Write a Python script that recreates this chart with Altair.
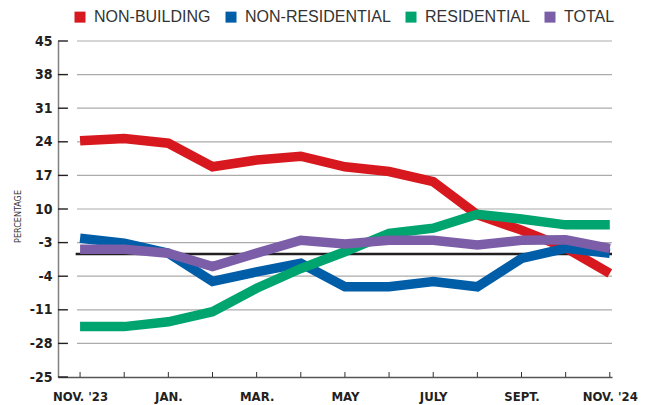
import json
import altair as alt
import pandas as pd

# ---- data ----
month_ticks = list(range(13))
month_labels = ["NOV. '23", "", "JAN.", "", "MAR.", "", "MAY", "", "JULY", "", "SEPT.", "", "NOV. '24"]

series_names = ["NON-BUILDING", "NON-RESIDENTIAL", "RESIDENTIAL", "TOTAL"]
series_colors = ["#D7191F", "#005DA8", "#00A46E", "#7B5EA7"]

non_building = [24.2, 24.7, 23.7, 18.8, 20.2, 21.0, 18.8, 17.8, 15.7, 8.8, 5.6, 1.9, -3.4]
non_residential = [3.9, 2.9, 0.8, -5.1, -3.1, -1.3, -6.2, -6.2, -5.1, -6.2, -0.3, 1.8, 0.8]
residential = [-14.5, -14.5, -13.5, -11.4, -6.5, -2.4, 1.1, 4.9, 6.0, 8.9, 7.9, 6.7, 6.7]
total = [1.6, 1.6, 0.8, -2.0, 0.8, 3.5, 2.7, 3.5, 3.5, 2.5, 3.5, 3.6, 1.8]

y_ticks = [45, 38, 31, 24, 17, 10, 3, -4, -11, -18, -25]
y_tick_labels = ["45", "38", "31", "24", "17", "10", "-3", "-4", "-11", "-28", "-25"]
reference_value = 0.6

# ---- tables ----
rows = []
for name, vals in zip(series_names, [non_building, non_residential, residential, total]):
    for i, v in enumerate(vals):
        rows.append({"idx": i, "series": name, "value": v})
df = pd.DataFrame(rows)
grid_df = pd.DataFrame({"v": y_ticks[:-1]})
ytick_df = pd.DataFrame({"v": y_ticks})
xtick_df = pd.DataFrame({"idx": month_ticks})
ref_df = pd.DataFrame({"v": [reference_value]})

x_scale = alt.Scale(domain=[-0.5, 12.05], nice=False, zero=False)
y_scale = alt.Scale(domain=[-25, 45], nice=False, zero=False)

FONT_N = "DejaVu Sans Condensed, Liberation Sans, sans-serif"

y_label_expr = f"{json.dumps(y_tick_labels)}[indexof({json.dumps(y_ticks)}, datum.value)]"
x_label_expr = f"{json.dumps(month_labels)}[datum.value]"

x_axis = alt.Axis(
    values=month_ticks,
    labelExpr=x_label_expr,
    ticks=False,
    tickSize=0,
    grid=False,
    domain=True,
    domainColor="#555555",
    domainWidth=1.5,
    labelFont=FONT_N,
    labelFontWeight="bold",
    labelFontSize=13,
    labelColor="#231f20",
    labelPadding=13,
    labelFlush=False,
    labelOverlap=False,
    title=None,
)

y_axis = alt.Axis(
    values=y_ticks,
    labelExpr=y_label_expr,
    ticks=False,
    tickSize=0,
    grid=False,
    domain=True,
    domainColor="#808080",
    domainWidth=1.5,
    labelFont=FONT_N,
    labelFontWeight="bold",
    labelFontSize=14,
    labelColor="#231f20",
    labelPadding=6,
    labelFlush=False,
    labelOverlap=False,
    title="PERCENTAGE",
    titleFont=FONT_N,
    titleFontSize=9,
    titleFontWeight="normal",
    titleColor="#333333",
    titleAngle=-90,
    titleAlign="center",
    titleBaseline="bottom",
    titleX=-36,
    titleY=175,
)

grid = alt.Chart(grid_df).mark_rule(color="#ababab", strokeWidth=1.2).encode(
    y=alt.Y("v:Q", scale=y_scale, axis=y_axis),
    x=alt.XDatum(-0.07, scale=x_scale, axis=x_axis),
    x2=alt.X2Datum(12.05),
)

yticks = alt.Chart(ytick_df).mark_rule(color="#231f20", strokeWidth=1.4).encode(
    y=alt.Y("v:Q", scale=y_scale, axis=y_axis),
    x=alt.XDatum(-0.5, scale=x_scale, axis=x_axis),
    x2=alt.X2Datum(-0.275),
)

xticks = alt.Chart(xtick_df).mark_rule(color="#333333", strokeWidth=1).encode(
    x=alt.X("idx:Q", scale=x_scale, axis=x_axis),
    y=alt.YDatum(-25, scale=y_scale, axis=y_axis),
    y2=alt.Y2Datum(-23.95),
)

ref = alt.Chart(ref_df).mark_rule(color="#231f20", strokeWidth=2.5).encode(
    y=alt.Y("v:Q", scale=y_scale, axis=y_axis),
    x=alt.XDatum(-0.1, scale=x_scale, axis=x_axis),
    x2=alt.X2Datum(12.05),
)

lines = alt.Chart(df).mark_line(strokeWidth=9.5, strokeCap="butt", strokeJoin="miter").encode(
    x=alt.X("idx:Q", scale=x_scale, axis=x_axis),
    y=alt.Y("value:Q", scale=y_scale, axis=y_axis),
    color=alt.Color(
        "series:N",
        scale=alt.Scale(domain=series_names, range=series_colors),
        sort=series_names,
        legend=alt.Legend(
            orient="none",
            legendX=14,
            legendY=-32,
            direction="horizontal",
            title=None,
            symbolType="square",
            symbolSize=30.25,
            symbolStrokeWidth=5.5,
            symbolOpacity=1,
            labelFont="Liberation Sans",
            labelFontSize=16,
            labelColor="#333333",
            labelOffset=6,
            columnPadding=6,
        ),
    ),
    detail="series:N",
)

chart = alt.layer(grid, ref, yticks, xticks, lines).properties(
    width=554,
    height=336,
    autosize=alt.AutoSizeParams(type="none"),
    padding={"left": 58, "top": 41, "right": 37, "bottom": 28},
    background="white",
).configure_view(stroke=None)

chart.save("out.html", embed_options={"renderer": "svg", "actions": False})
